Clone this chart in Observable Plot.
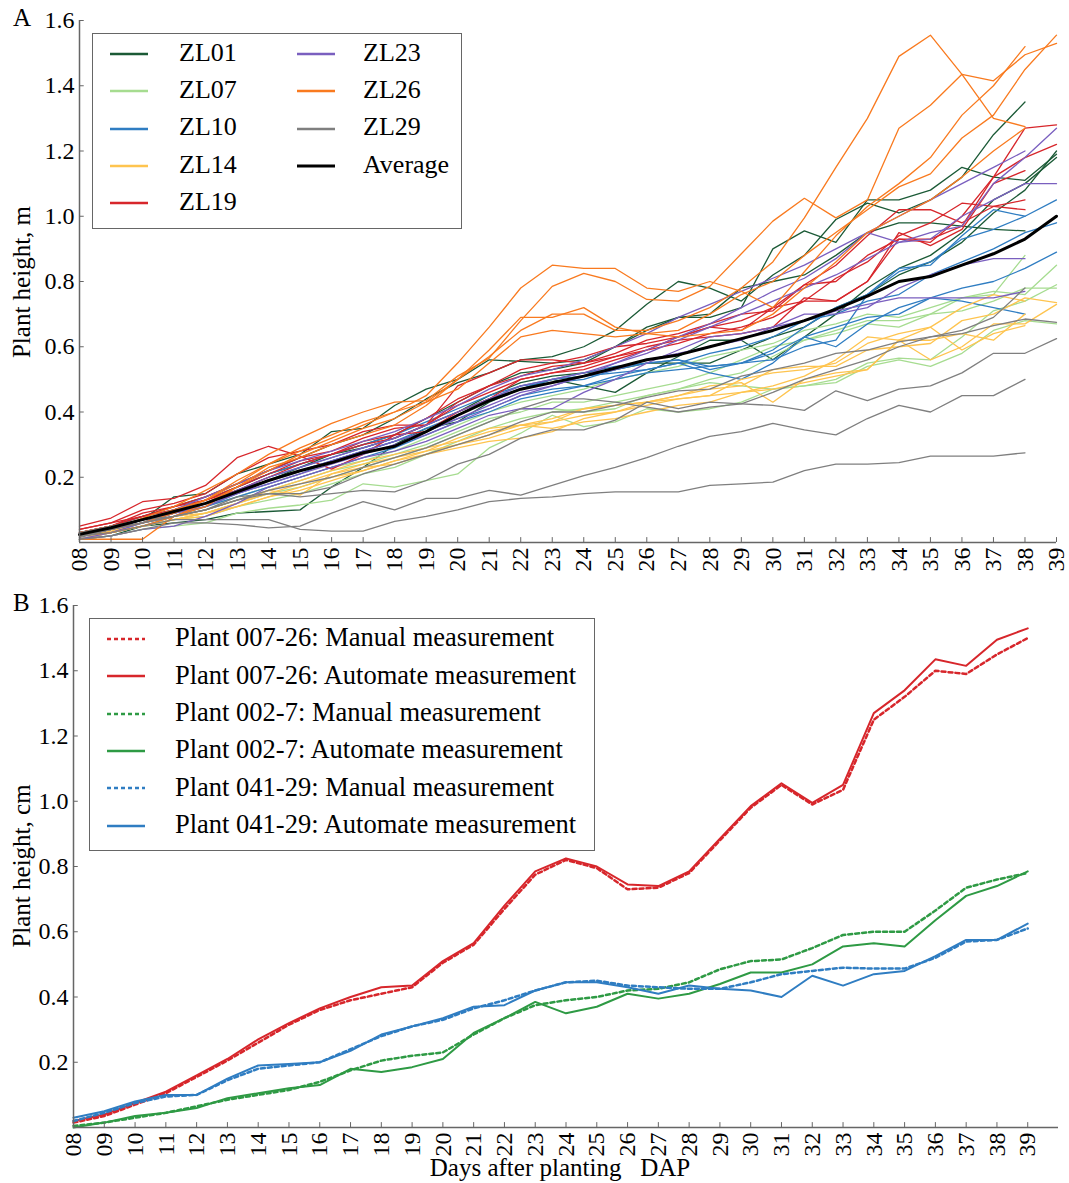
<!DOCTYPE html>
<html><head><meta charset="utf-8">
<script src="https://cdn.jsdelivr.net/npm/d3@7"></script>
<script src="https://cdn.jsdelivr.net/npm/@observablehq/plot@0.6"></script>
<style>
body{margin:0;background:#fff;font-family:"Liberation Serif","Times New Roman",serif;color:#000;}
#wrap{position:relative;width:1069px;height:1183px;overflow:hidden;background:#fff;}
.abs{position:absolute;white-space:nowrap;font-family:"Liberation Serif",serif;}
.rot{transform:translate(-50%,-50%) rotate(-90deg);font-size:25px;}
.legend{position:absolute;border:1.5px solid #666;background:#fff;box-sizing:border-box;}
.legend .item{position:absolute;line-height:1;white-space:nowrap;font-family:"Liberation Serif",serif;}
.legend svg{position:absolute;overflow:visible;}
svg text{font-family:"Liberation Serif",serif;}
</style></head><body><div id="wrap"></div>
<script>
// ---------- data ----------
const days = d3.range(8, 40); // 08 .. 39
const yTicks = [0.2, 0.4, 0.6, 0.8, 1.0, 1.2, 1.4, 1.6];
const groupsA = ["ZL01", "ZL07", "ZL10", "ZL14", "ZL19", "ZL23", "ZL26", "ZL29"];
const colorsA = ["#1b5a36", "#a6dc90", "#2f7dc2", "#fec44f", "#d7262b", "#7a5fbf", "#f97a1f", "#7f7f7f"];

const ZL01 = [
  [0.03,0.05,0.08,0.11,0.14,0.18,0.22,0.26,0.30,0.33,0.38,0.44,0.49,0.52,0.56,0.57,0.60,0.65,0.73,0.80,0.78,0.74,0.82,0.88,0.99,1.04,1.01,1.05,1.12,1.25,1.35,null],
  [0.02,0.04,0.07,0.14,0.15,0.21,0.24,0.27,0.34,0.35,0.42,0.47,0.50,0.56,0.555,0.55,0.56,0.60,0.66,0.69,0.69,0.72,0.90,0.955,0.92,1.05,1.05,1.08,1.15,1.12,1.11,1.19],
  [0.02,0.04,0.06,0.10,0.13,0.17,0.21,0.24,0.27,0.30,0.33,0.38,0.43,0.48,0.52,0.53,0.55,0.60,0.65,0.69,0.70,0.78,0.80,0.82,0.88,0.95,0.98,0.98,0.97,0.96,0.955,null],
  [0.01,0.02,0.05,0.06,0.07,0.09,0.095,0.10,0.17,0.23,0.30,0.35,0.37,0.43,0.47,0.50,0.48,0.46,0.52,0.57,0.62,0.62,0.56,0.63,0.70,0.78,0.84,0.88,0.95,1.05,1.10,1.18],
  [0.02,0.04,0.07,0.09,0.12,0.16,0.19,0.23,0.27,0.29,0.32,0.36,0.40,0.45,0.49,0.51,0.52,0.53,0.55,0.55,0.55,0.59,0.63,0.66,0.72,0.76,0.82,0.86,0.92,1.01,1.08,1.20]
];
const ZL07 = [
  [0.01,0.02,0.04,0.05,0.06,0.09,0.105,0.115,0.13,0.18,0.17,0.19,0.21,0.29,0.335,0.39,0.355,0.37,0.41,0.40,0.41,0.43,0.47,0.48,0.50,0.55,0.565,0.56,0.63,0.71,0.74,0.79],
  [0.02,0.03,0.05,0.07,0.09,0.12,0.15,0.17,0.20,0.23,0.26,0.29,0.33,0.37,0.41,0.41,0.40,0.41,0.45,0.47,0.50,0.52,0.57,0.62,0.65,0.68,0.68,0.70,0.75,0.77,0.76,0.85],
  [0.02,0.04,0.06,0.08,0.10,0.13,0.16,0.19,0.22,0.24,0.27,0.30,0.34,0.38,0.40,0.43,0.43,0.45,0.47,0.49,0.52,0.56,0.60,0.62,0.64,0.67,0.66,0.70,0.71,0.74,0.78,0.78],
  [0.01,0.03,0.05,0.07,0.08,0.11,0.13,0.15,0.18,0.21,0.23,0.27,0.31,0.35,0.38,0.40,0.41,0.43,0.45,0.47,0.49,0.48,0.47,0.48,0.49,0.54,0.56,0.54,0.58,0.65,0.68,0.67],
  [0.02,0.04,0.06,0.09,0.11,0.14,0.17,0.20,0.23,0.25,0.28,0.32,0.36,0.40,0.43,0.45,0.47,0.50,0.52,0.54,0.57,0.59,0.61,0.65,0.67,0.70,0.69,0.72,0.75,0.76,0.88,null]
];
const ZL10 = [
  [0.02,0.04,0.07,0.09,0.12,0.16,0.20,0.23,0.26,0.29,0.32,0.36,0.40,0.44,0.47,0.50,0.51,0.52,0.53,0.55,0.52,0.50,0.55,0.63,0.60,0.67,0.72,0.75,0.78,0.80,0.84,0.89],
  [0.03,0.05,0.08,0.10,0.13,0.17,0.21,0.24,0.27,0.30,0.33,0.37,0.41,0.45,0.48,0.50,0.52,0.54,0.55,0.56,0.53,0.55,0.59,0.66,0.72,0.76,0.84,0.85,0.94,1.02,1.00,null],
  [0.01,0.03,0.06,0.09,0.11,0.15,0.18,0.21,0.25,0.28,0.31,0.34,0.38,0.41,0.45,0.47,0.48,0.50,0.52,0.53,0.54,0.55,0.56,0.60,0.62,0.76,0.83,0.86,0.93,0.96,1.00,1.05],
  [0.02,0.04,0.07,0.10,0.12,0.16,0.19,0.22,0.25,0.28,0.31,0.35,0.39,0.44,0.48,0.49,0.50,0.53,0.55,0.56,0.54,0.55,0.58,0.63,0.66,0.69,0.70,0.75,0.74,0.72,0.70,null],
  [0.02,0.03,0.05,0.08,0.11,0.14,0.17,0.20,0.23,0.26,0.29,0.33,0.37,0.40,0.44,0.46,0.48,0.51,0.53,0.55,0.58,0.60,0.63,0.68,0.70,0.74,0.76,0.82,0.86,0.90,0.95,0.98]
];
const ZL14 = [
  [0.02,0.035,0.06,0.08,0.09,0.12,0.16,0.145,0.21,0.23,0.24,0.27,0.30,0.32,0.35,0.37,0.41,0.42,0.43,0.45,0.47,0.48,0.53,0.54,0.54,0.59,0.60,0.61,0.68,0.70,0.75,0.735],
  [0.01,0.03,0.05,0.07,0.09,0.11,0.14,0.17,0.20,0.22,0.25,0.27,0.29,0.31,0.32,0.34,0.38,0.40,0.43,0.45,0.48,0.49,0.43,0.50,0.52,0.53,0.62,0.66,0.59,0.64,0.665,null],
  [0.02,0.04,0.06,0.08,0.10,0.13,0.16,0.19,0.22,0.25,0.27,0.29,0.31,0.34,0.36,0.38,0.41,0.42,0.43,0.44,0.45,0.50,0.52,0.53,0.55,0.61,0.64,0.66,0.72,0.76,0.74,null],
  [0.01,0.03,0.05,0.07,0.08,0.11,0.14,0.16,0.19,0.22,0.25,0.28,0.30,0.33,0.36,0.37,0.39,0.40,0.42,0.44,0.45,0.46,0.47,0.49,0.51,0.53,0.62,0.62,0.64,0.62,0.70,null],
  [0.02,0.03,0.05,0.07,0.09,0.12,0.15,0.18,0.21,0.24,0.26,0.28,0.32,0.35,0.36,0.35,0.37,0.38,0.40,0.42,0.43,0.46,0.48,0.51,0.56,0.63,0.62,0.56,0.60,0.67,0.67,0.73]
];
const ZL19 = [
  [0.05,0.075,0.125,0.135,0.175,0.26,0.295,0.265,0.225,0.27,0.33,0.34,0.40,0.44,0.50,0.52,0.53,0.56,0.59,0.63,0.66,0.65,0.72,0.74,0.74,0.80,0.93,0.93,0.97,1.12,1.27,1.28],
  [0.04,0.06,0.10,0.12,0.15,0.21,0.26,0.28,0.30,0.34,0.36,0.36,0.48,0.52,0.56,0.56,0.55,0.58,0.62,0.64,0.67,0.70,0.71,0.79,0.80,0.88,0.93,0.92,1.00,1.12,1.18,1.22],
  [0.03,0.05,0.09,0.11,0.14,0.18,0.22,0.26,0.28,0.32,0.35,0.36,0.43,0.48,0.53,0.55,0.57,0.60,0.61,0.63,0.66,0.68,0.72,0.79,0.85,0.94,1.02,1.02,0.98,1.03,1.05,null],
  [0.04,0.06,0.08,0.11,0.13,0.17,0.21,0.25,0.27,0.31,0.33,0.38,0.44,0.48,0.51,0.54,0.55,0.57,0.60,0.62,0.63,0.64,0.66,0.75,0.74,0.80,0.95,0.91,0.96,1.10,1.14,null],
  [0.03,0.05,0.08,0.10,0.13,0.16,0.20,0.24,0.27,0.30,0.32,0.36,0.42,0.46,0.50,0.52,0.54,0.57,0.59,0.61,0.64,0.66,0.69,0.74,0.81,0.86,0.94,0.98,1.04,1.03,1.02,null]
];
const ZL23 = [
  [0.02,0.04,0.07,0.10,0.14,0.18,0.22,0.25,0.28,0.31,0.34,0.38,0.42,0.47,0.51,0.53,0.56,0.60,0.64,0.69,0.73,0.77,0.81,0.85,0.90,0.95,1.00,1.05,1.10,1.15,1.20,null],
  [0.02,0.04,0.06,0.09,0.12,0.16,0.20,0.23,0.26,0.29,0.32,0.36,0.40,0.44,0.48,0.50,0.52,0.55,0.58,0.62,0.66,0.70,0.74,0.78,0.82,0.87,0.92,0.95,0.97,1.10,1.18,1.27],
  [0.01,0.03,0.06,0.08,0.12,0.15,0.19,0.22,0.25,0.28,0.31,0.34,0.38,0.42,0.46,0.48,0.51,0.55,0.59,0.63,0.67,0.72,0.77,0.81,0.87,0.95,0.92,0.93,1.00,1.05,1.10,1.10],
  [0.02,0.04,0.06,0.09,0.11,0.15,0.18,0.21,0.24,0.27,0.30,0.33,0.37,0.41,0.45,0.48,0.51,0.53,0.56,0.58,0.60,0.62,0.66,0.70,0.70,0.72,0.78,0.82,0.85,0.87,0.87,null],
  [0.01,0.02,0.04,0.05,0.08,0.12,0.17,0.20,0.23,0.26,0.28,0.31,0.35,0.39,0.41,0.41,0.46,0.50,0.55,0.59,0.63,0.64,0.66,0.68,0.71,0.73,0.75,0.75,0.75,0.75,0.77,null]
];
const ZL26 = [
  [0.01,0.01,0.01,0.08,0.11,0.17,0.23,0.26,0.30,0.33,0.36,0.42,0.50,0.57,0.65,0.70,0.70,0.65,0.65,0.68,0.72,0.78,0.86,0.995,1.15,1.30,1.49,1.555,1.435,1.30,1.275,null],
  [0.03,0.04,0.06,0.09,0.13,0.19,0.24,0.29,0.33,0.37,0.40,0.45,0.55,0.66,0.78,0.85,0.84,0.84,0.78,0.77,0.80,0.77,0.72,0.83,0.94,1.03,1.10,1.18,1.31,1.40,1.52,null],
  [0.02,0.04,0.075,0.11,0.16,0.21,0.27,0.32,0.365,0.40,0.43,0.435,0.51,0.565,0.68,0.785,0.825,0.80,0.745,0.74,0.785,0.885,0.985,1.055,0.995,1.05,1.27,1.34,1.435,1.415,1.495,1.53],
  [0.02,0.03,0.05,0.08,0.12,0.17,0.22,0.27,0.31,0.35,0.38,0.43,0.50,0.59,0.69,0.69,0.72,0.66,0.64,0.65,0.70,0.76,0.80,0.88,0.95,1.02,1.09,1.13,1.24,1.31,1.45,1.555],
  [0.03,0.05,0.07,0.10,0.13,0.18,0.24,0.28,0.32,0.36,0.40,0.43,0.47,0.55,0.63,0.65,0.64,0.63,0.64,0.63,0.64,0.65,0.70,0.78,0.86,0.95,1.00,1.05,1.12,1.20,1.27,null]
];
const ZL29 = [
  [0.02,0.03,0.05,0.07,0.07,0.07,0.07,0.04,0.035,0.035,0.065,0.08,0.10,0.125,0.135,0.14,0.15,0.155,0.155,0.155,0.175,0.18,0.185,0.22,0.24,0.24,0.245,0.265,0.265,0.265,0.275,null],
  [0.01,0.02,0.04,0.06,0.06,0.055,0.045,0.05,0.09,0.125,0.10,0.135,0.135,0.16,0.145,0.175,0.205,0.23,0.26,0.295,0.325,0.34,0.365,0.345,0.33,0.38,0.42,0.40,0.45,0.45,0.50,null],
  [0.03,0.05,0.07,0.08,0.10,0.14,0.15,0.14,0.15,0.16,0.155,0.19,0.24,0.27,0.32,0.345,0.345,0.375,0.43,0.41,0.43,0.425,0.42,0.405,0.465,0.435,0.47,0.48,0.52,0.58,0.58,0.625],
  [0.015,0.04,0.06,0.08,0.10,0.13,0.15,0.15,0.17,0.21,0.24,0.27,0.30,0.33,0.37,0.40,0.40,0.42,0.445,0.465,0.47,0.51,0.53,0.55,0.58,0.59,0.615,0.63,0.64,0.665,0.685,0.675],
  [0.02,0.04,0.06,0.08,0.10,0.13,0.16,0.18,0.20,0.23,0.26,0.29,0.33,0.37,0.41,0.44,0.44,0.43,0.415,0.40,0.415,0.425,0.46,0.50,0.53,0.56,0.60,0.63,0.65,0.69,0.78,null]
];
const average = [0.025,0.045,0.07,0.095,0.12,0.155,0.19,0.22,0.245,0.275,0.295,0.34,0.39,0.435,0.47,0.49,0.51,0.535,0.56,0.575,0.60,0.625,0.65,0.68,0.715,0.755,0.80,0.815,0.85,0.885,0.93,1.00];

// Panel B
const seriesB = ["Plant 007-26: Manual measurement","Plant 007-26: Automate measurement","Plant 002-7: Manual measurement","Plant 002-7: Automate measurement","Plant 041-29: Manual measurement","Plant 041-29: Automate measurement"];
const colorsB = ["#d7262b","#d7262b","#2e9a44","#2e9a44","#2f7dc2","#2f7dc2"];
const manual007 = [0.015,0.035,0.07,0.105,0.155,0.205,0.26,0.315,0.36,0.39,0.41,0.43,0.505,0.56,0.67,0.775,0.82,0.795,0.73,0.735,0.78,0.88,0.98,1.05,0.99,1.035,1.25,1.32,1.40,1.39,1.45,1.50];
const auto007   = [0.02,0.04,0.075,0.11,0.16,0.21,0.27,0.32,0.365,0.40,0.43,0.435,0.51,0.565,0.68,0.785,0.825,0.80,0.745,0.74,0.785,0.885,0.985,1.055,0.995,1.05,1.27,1.34,1.435,1.415,1.495,1.53];
const manual002 = [0.005,0.015,0.03,0.045,0.065,0.085,0.10,0.115,0.14,0.175,0.205,0.22,0.23,0.285,0.335,0.375,0.39,0.40,0.42,0.425,0.445,0.485,0.51,0.515,0.55,0.59,0.60,0.60,0.665,0.735,0.76,0.78];
const auto002   = [0.0,0.015,0.035,0.045,0.06,0.09,0.105,0.12,0.13,0.18,0.17,0.185,0.21,0.29,0.335,0.385,0.35,0.37,0.41,0.395,0.41,0.44,0.475,0.475,0.50,0.555,0.565,0.555,0.635,0.71,0.74,0.785];
const manual041 = [0.02,0.045,0.075,0.095,0.10,0.145,0.18,0.19,0.20,0.24,0.28,0.31,0.33,0.365,0.39,0.42,0.445,0.45,0.435,0.43,0.425,0.425,0.445,0.47,0.48,0.49,0.487,0.487,0.52,0.57,0.575,0.61];
const auto041   = [0.03,0.05,0.08,0.10,0.10,0.15,0.19,0.195,0.20,0.235,0.285,0.31,0.335,0.37,0.375,0.42,0.445,0.445,0.43,0.41,0.435,0.425,0.42,0.40,0.465,0.435,0.47,0.48,0.525,0.575,0.575,0.625];
const dashedB = [true,false,true,false,true,false];

// ---------- build tables ----------
const groupData = {ZL01, ZL07, ZL10, ZL14, ZL19, ZL23, ZL26, ZL29};
const rowsA = [];
groupsA.forEach(g => groupData[g].forEach((arr, i) => arr.forEach((v, j) => {
  if (v != null) rowsA.push({group: g, id: g + "-" + i, day: days[j], v});
})));
const avgRows = average.map((v, j) => ({day: days[j], v}));
const seriesValuesB = [manual007, auto007, manual002, auto002, manual041, auto041];
const rowsB = [];
seriesValuesB.forEach((arr, s) => arr.forEach((v, j) => rowsB.push({s: seriesB[s], day: days[j], v})));

const fmtDay = d => String(d).padStart(2, "0");
const axisColor = "#666";
const serif = "'Liberation Serif', 'Times New Roman', serif";
const font = {fontFamily: serif, fontSize: "24px", color: "#000", background: "transparent", overflow: "visible"};

function axes(xmax) {
  return [
    Plot.ruleY([0], {stroke: axisColor, strokeWidth: 1.5}),
    Plot.ruleX([8], {stroke: axisColor, strokeWidth: 1.5}),
    Plot.ruleX(days, {x: d => d, y1: 0, y2: 0.015, stroke: axisColor}),
    Plot.ruleY(yTicks, {y: d => d, x1: 8, x2: 8 + 0.15 * (xmax - 8) / 31, stroke: axisColor}),
    Plot.axisX(days, {tickSize: 0, tickPadding: 5, tickRotate: -90, tickFormat: fmtDay, fill: "#000", label: null, fontFamily: serif, fontSize: 24}),
    Plot.axisY(yTicks, {tickSize: 0, tickPadding: 5, tickFormat: d => d.toFixed(1), fill: "#000", label: null, fontFamily: serif, fontSize: 24})
  ];
}

const plotA = Plot.plot({
  width: 1069, height: 585,
  marginLeft: 79, marginRight: 13, marginTop: 20, marginBottom: 43,
  style: font,
  x: {domain: [8, 39]},
  y: {domain: [0, 1.6]},
  color: {domain: groupsA, range: colorsA},
  marks: [
    Plot.line(rowsA, {x: "day", y: "v", z: "id", stroke: "group", strokeWidth: 1.3}),
    Plot.line(avgRows, {x: "day", y: "v", stroke: "#000", strokeWidth: 3}),
    ...axes(39)
  ]
});

const plotB = Plot.plot({
  width: 1069, height: 598,
  marginLeft: 73, marginRight: 11, marginTop: 20, marginBottom: 56,
  style: font,
  x: {domain: [8, 40]},
  y: {domain: [0, 1.6]},
  color: {domain: seriesB, range: colorsB},
  marks: [
    ...seriesB.map((name, s) => Plot.line(rowsB.filter(r => r.s === name), {
      x: "day", y: "v", stroke: "s",
      strokeWidth: dashedB[s] ? 2.5 : 2,
      strokeDasharray: dashedB[s] ? "4,3" : null
    })),
    ...axes(40)
  ]
});

const wrap = document.getElementById("wrap");
plotA.style.position = "absolute"; plotA.style.left = "0px"; plotA.style.top = "0px";
plotB.style.position = "absolute"; plotB.style.left = "0px"; plotB.style.top = "585px";
wrap.appendChild(plotA);
wrap.appendChild(plotB);

function addText(txt, left, top, cls, extra) {
  const d = document.createElement("div");
  d.className = "abs " + (cls || "");
  d.textContent = txt;
  d.style.left = left + "px"; d.style.top = top + "px";
  Object.assign(d.style, extra || {});
  wrap.appendChild(d);
  return d;
}
addText("A", 13, 4, "", {fontSize: "25px"});
addText("B", 13, 589, "", {fontSize: "25px"});
addText("Plant height, m", 22, 282, "rot");
addText("Plant height, cm", 22, 866, "rot");
addText("Days after planting\u2002 DAP", 560, 1168, "", {fontSize: "25px", transform: "translate(-50%,-50%)"});

function legend(left, top, w, h, fs, items) {
  const box = document.createElement("div");
  box.className = "legend";
  Object.assign(box.style, {left: left + "px", top: top + "px", width: w + "px", height: h + "px"});
  items.forEach(it => {
    const s = document.createElementNS("http://www.w3.org/2000/svg", "svg");
    s.setAttribute("width", it.lw); s.setAttribute("height", 6);
    s.style.left = it.lx + "px"; s.style.top = (it.y - 3) + "px";
    const ln = document.createElementNS("http://www.w3.org/2000/svg", "line");
    ln.setAttribute("x1", 0); ln.setAttribute("x2", it.lw); ln.setAttribute("y1", 3); ln.setAttribute("y2", 3);
    ln.setAttribute("stroke", it.color); ln.setAttribute("stroke-width", it.sw);
    if (it.dash) ln.setAttribute("stroke-dasharray", it.dash);
    s.appendChild(ln); box.appendChild(s);
    const t = document.createElement("div");
    t.className = "item"; t.textContent = it.label;
    t.style.fontSize = fs + "px";
    t.style.left = it.tx + "px"; t.style.top = (it.y - fs * 0.55) + "px";
    box.appendChild(t);
  });
  wrap.appendChild(box);
}
const legA = [];
const labelsA = [...groupsA, "Average"];
const colorsLegA = [...colorsA, "#000"];
labelsA.forEach((lab, i) => {
  const col = i < 5 ? 0 : 1, row = i < 5 ? i : i - 5;
  legA.push({label: lab, color: colorsLegA[i], sw: lab === "Average" ? 3 : 2.5,
    lx: col ? 204 : 17, lw: 38, tx: col ? 270 : 86, y: 20 + row * 37.3});
});
legend(92, 33, 370, 196, 26, legA);
legend(89, 618, 506, 233, 26.5, seriesB.map((lab, i) => ({
  label: lab, color: colorsB[i], sw: 2.5, dash: dashedB[i] ? "4,3" : null,
  lx: 17, lw: 38, tx: 85, y: 20 + i * 37.3
})));
</script></body></html>
